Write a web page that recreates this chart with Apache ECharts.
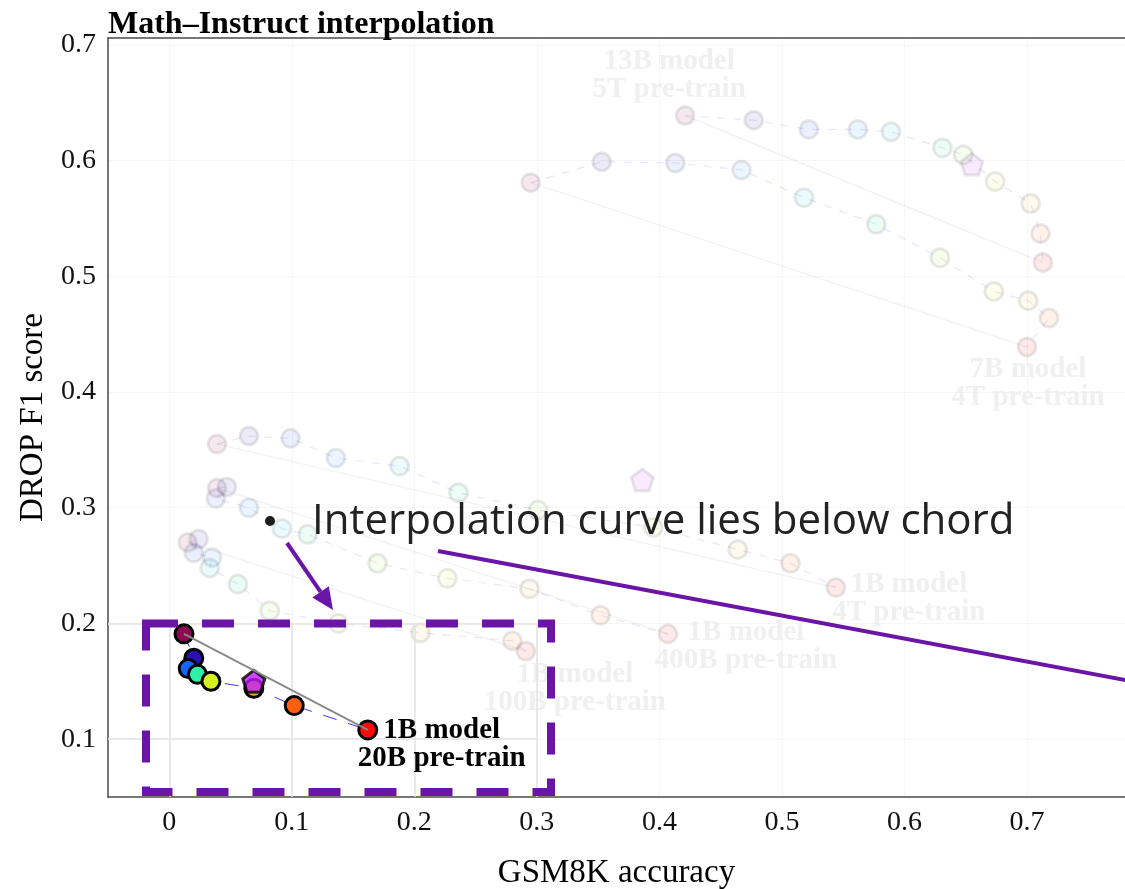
<!DOCTYPE html>
<html><head><meta charset="utf-8">
<script src="https://cdn.jsdelivr.net/npm/echarts@6/dist/echarts.min.js"></script>
<style>html,body{margin:0;padding:0;background:#fff}#c{width:1125px;height:889px}</style>
</head><body><div id="c"></div>
<script>
// ---------- DATA ----------
const xTicks = [0, 0.1, 0.2, 0.3, 0.4, 0.5, 0.6, 0.7];
const yTicks = [0.1, 0.2, 0.3, 0.4, 0.5, 0.6, 0.7];

// faded background curves [GSM8K accuracy, DROP F1]
const pts13B5T = [[0.421,0.639],[0.477,0.635],[0.522,0.627],[0.562,0.627],[0.589,0.625],[0.631,0.611],[0.648,0.605],[0.674,0.582],[0.703,0.563],[0.711,0.537],[0.713,0.512]];
const pent13B5T = [0.655,0.597];
const pts7B4T = [[0.295,0.581],[0.353,0.599],[0.413,0.598],[0.467,0.592],[0.518,0.568],[0.577,0.545],[0.629,0.516],[0.673,0.487],[0.701,0.479],[0.718,0.464],[0.700,0.439]];
const pts1B4T = [[0.039,0.355],[0.065,0.362],[0.099,0.360],[0.136,0.343],[0.188,0.336],[0.236,0.313],[0.301,0.298],[0.395,0.283],[0.464,0.264],[0.507,0.252],[0.544,0.231]];
const pent1B4T = [0.386,0.324];
const pts1B400B = [[0.039,0.317],[0.047,0.318],[0.038,0.308],[0.065,0.300],[0.092,0.282],[0.113,0.277],[0.170,0.252],[0.227,0.239],[0.294,0.230],[0.352,0.207],[0.407,0.191]];
const pts1B100B = [[0.015,0.270],[0.024,0.273],[0.020,0.261],[0.035,0.257],[0.033,0.248],[0.056,0.234],[0.082,0.211],[0.138,0.200],[0.205,0.192],[0.280,0.185],[0.291,0.176]];

// highlighted curve
const pts1B20B = [[0.012,0.191],[0.020,0.170],[0.0155,0.161],[0.023,0.156],[0.034,0.150],[0.069,0.144],[0.102,0.129],[0.162,0.108]];
const pent1B20B = [0.069,0.150];

const labelTexts = {
  m13B5T: '13B model\n5T pre-train',
  m7B4T: '7B model\n4T pre-train',
  m1B4T: '1B model\n4T pre-train',
  m1B400B: '1B model\n400B pre-train',
  m1B100B: '1B model\n100B pre-train',
  m1B20B: '1B model\n20B pre-train'
};
const titleText = 'Math\u2013Instruct interpolation';
const xName = 'GSM8K accuracy';
const yName = 'DROP F1 score';
const bulletText = 'Interpolation curve lies below chord';

// ---------- STYLE ----------
const SERIF = '"Liberation Serif", "Times New Roman", serif';
const rainbow = ['#8b0a50','#3a1fb0','#2a4fe8','#1f8cff','#1fd0e8','#2ee89a','#9af03a','#e6f020','#f7c030','#ff7418','#ff1a10'];
const fgColors = ['#8b0a50','#2a10b0','#1565ff','#2ef0a8','#d6f020','#f5b52a','#ff6010','#ff0a0a'];
const pentPath = 'path://M0,-1 L0.951,-0.309 L0.588,0.809 L-0.588,0.809 L-0.951,-0.309 Z';
const FADE = 0.09;

function colorFor(i, n) { return rainbow[Math.round(i * (rainbow.length - 1) / (n - 1))]; }

const series = [];
function fadedCurve(pts, name) {
  series.push({
    type: 'line', name: name, data: pts, z: 2, silent: true,
    symbol: 'circle', symbolSize: 18, showAllSymbol: true,
    lineStyle: { color: '#3c3cdc', width: 1.2, type: [8, 8], opacity: 0.12 },
    itemStyle: { color: p => colorFor(p.dataIndex, pts.length), borderColor: '#000', borderWidth: 3, opacity: FADE },
    emphasis: { disabled: true }, animation: false
  });
  series.push({
    type: 'line', name: name + ' chord', data: [pts[0], pts[pts.length - 1]], z: 1, silent: true,
    symbol: 'none', lineStyle: { color: '#666', width: 1.5, opacity: 0.08 }, animation: false
  });
}
fadedCurve(pts13B5T, '13B 5T');
fadedCurve(pts7B4T, '7B 4T');
fadedCurve(pts1B4T, '1B 4T');
fadedCurve(pts1B400B, '1B 400B');
fadedCurve(pts1B100B, '1B 100B');

series.push({
  type: 'scatter', name: 'faded merges', data: [pent13B5T, pent1B4T], z: 3, silent: true,
  symbol: pentPath, symbolSize: 22,
  itemStyle: { color: '#c21aff', borderColor: '#000', borderWidth: 3, opacity: FADE }, animation: false
});

// faded labels
const fadedLabelItems = [
  { value: pts13B5T[0], text: labelTexts.m13B5T, offset: [-16, -40] },
  { value: pts7B4T[pts7B4T.length - 1], text: labelTexts.m7B4T, offset: [1, 37] },
  { value: pts1B4T[pts1B4T.length - 1], text: labelTexts.m1B4T, offset: [73, 11] },
  { value: pts1B400B[pts1B400B.length - 1], text: labelTexts.m1B400B, offset: [78, 13] },
  { value: pts1B100B[pts1B100B.length - 1], text: labelTexts.m1B100B, offset: [49, 37] }
];
series.push({
  type: 'scatter', name: 'faded labels', z: 4, silent: true, symbolSize: 0,
  itemStyle: { color: '#ececec' }, animation: false,
  data: fadedLabelItems.map(d => ({
    value: d.value,
    label: { show: true, position: 'inside', offset: d.offset, formatter: d.text, align: 'center', verticalAlign: 'middle',
      fontFamily: SERIF, fontWeight: 'bold', fontSize: 29, lineHeight: 28, color: '#ececec', textBorderWidth: 0 }
  }))
});

// highlighted curve
series.push({
  type: 'line', name: '1B 20B', data: pts1B20B, z: 10, silent: true,
  symbol: 'circle', symbolSize: 18, showAllSymbol: true,
  lineStyle: { color: '#3a3ae6', width: 1, type: [14, 12] },
  itemStyle: { color: p => fgColors[p.dataIndex], borderColor: '#000', borderWidth: 3 },
  animation: false,
  markLine: {
    silent: true, symbol: 'none', label: { show: false }, animation: false,
    lineStyle: { color: '#e3e3e3', width: 1.5, type: 'solid' },
    data: [
      [{ coord: [0, 0.05] }, { coord: [0, 0.2] }],
      [{ coord: [0.1, 0.05] }, { coord: [0.1, 0.2] }],
      [{ coord: [0.2, 0.05] }, { coord: [0.2, 0.2] }],
      [{ coord: [0.3, 0.05] }, { coord: [0.3, 0.2] }],
      [{ coord: [-0.05, 0.1] }, { coord: [0.3, 0.1] }],
      [{ coord: [-0.05, 0.2] }, { coord: [0.3, 0.2] }]
    ]
  }
});
series.push({
  type: 'scatter', name: '1B 20B merge', data: [pent1B20B], z: 11, silent: true,
  symbol: pentPath, symbolSize: 22,
  itemStyle: { color: '#c21aff', borderColor: '#000', borderWidth: 3 }, animation: false
});
series.push({
  type: 'line', name: '1B 20B chord', data: [pts1B20B[0], pts1B20B[pts1B20B.length - 1]], z: 12, silent: true,
  symbol: 'none', lineStyle: { color: '#888', width: 1.8 }, animation: false
});
series.push({
  type: 'scatter', name: '1B 20B label', z: 13, silent: true, symbolSize: 0,
  itemStyle: { color: '#000' }, animation: false,
  data: [{
    value: pts1B20B[pts1B20B.length - 1],
    label: { show: true, position: 'inside', offset: [74, 15], formatter: labelTexts.m1B20B, align: 'center', verticalAlign: 'middle',
      fontFamily: SERIF, fontWeight: 'bold', fontSize: 29, lineHeight: 28, color: '#000', opacity: 1, textBorderWidth: 0 }
  }]
});

// ---------- ANNOTATION OVERLAY ----------
const PURPLE = '#6a14a8';
function arrowHead(tail, tip, len, half) {
  const dx = tip[0] - tail[0], dy = tip[1] - tail[1];
  const L = Math.hypot(dx, dy), ux = dx / L, uy = dy / L;
  const bx = tip[0] - len * ux, by = tip[1] - len * uy;
  return [[tip[0], tip[1]], [bx - half * uy, by + half * ux], [bx + half * uy, by - half * ux]];
}
const arrTail = [287, 543], arrTip = [333, 610];
const head = arrowHead(arrTail, arrTip, 22, 10);
const graphic = [
  { type: 'rect', z: 100, shape: { x: 146, y: 623.5, width: 405, height: 168.5 },
    style: { fill: 'none', stroke: PURPLE, lineWidth: 8, lineDash: [32, 24] } },
  { type: 'line', z: 100, shape: { x1: arrTail[0], y1: arrTail[1], x2: (head[1][0] + head[2][0]) / 2, y2: (head[1][1] + head[2][1]) / 2 },
    style: { stroke: PURPLE, lineWidth: 4 } },
  { type: 'polygon', z: 100, shape: { points: head }, style: { fill: PURPLE } },
  { type: 'line', z: 100, shape: { x1: 438, y1: 551, x2: 1130, y2: 681 }, style: { stroke: PURPLE, lineWidth: 4 } },
  { type: 'circle', z: 100, shape: { cx: 270, cy: 521, r: 5 }, style: { fill: '#1e1e1e' } },
  { type: 'text', z: 100, x: 312, y: 522,
    style: { text: bulletText, fill: '#222', font: '42px "Open Sans", Lato, sans-serif', verticalAlign: 'middle', align: 'left' } }
];

const chart = echarts.init(document.getElementById('c'), null, { renderer: 'canvas' });
chart.setOption({
  backgroundColor: '#fff',
  animation: false,
  title: { text: titleText, left: 108, top: 9, padding: 0,
    textStyle: { fontFamily: SERIF, fontWeight: 'bold', fontSize: 32, color: '#000' } },
  grid: { left: 108, top: 38, right: 0, bottom: 92, containLabel: false, outerBoundsMode: 'none' },
  xAxis: [{
    type: 'value', min: -0.05, max: 0.78,
    name: xName, nameLocation: 'middle', nameGap: 60,
    nameTextStyle: { fontFamily: SERIF, fontSize: 33, color: '#000' },
    axisLine: { show: true, onZero: false, lineStyle: { color: '#4a4a4a', width: 1.5 } },
    axisTick: { show: false, customValues: xTicks },
    axisLabel: { customValues: xTicks, fontFamily: SERIF, fontSize: 28, color: '#111', margin: 12,
      formatter: v => String(+v.toFixed(2)) },
    splitLine: { show: true, lineStyle: { color: '#f6f6f6', width: 1.2 } }
  }, {
    type: 'value', min: -0.05, max: 0.78, position: 'top',
    axisLine: { show: true, onZero: false, lineStyle: { color: '#4a4a4a', width: 1.5 } },
    axisTick: { show: false }, axisLabel: { show: false }, splitLine: { show: false }
  }],
  yAxis: {
    type: 'value', min: 0.05, max: 0.706,
    name: yName, nameLocation: 'middle', nameGap: 56,
    nameTextStyle: { fontFamily: SERIF, fontSize: 33, color: '#000' },
    axisLine: { show: true, onZero: false, lineStyle: { color: '#4a4a4a', width: 1.5 } },
    axisTick: { show: false, customValues: yTicks },
    axisLabel: { customValues: yTicks, fontFamily: SERIF, fontSize: 28, color: '#111', margin: 12,
      formatter: v => String(+v.toFixed(2)) },
    splitLine: { show: true, lineStyle: { color: '#f6f6f6', width: 1.2 } }
  },
  series: series,
  graphic: graphic
});
</script>
</body></html>
